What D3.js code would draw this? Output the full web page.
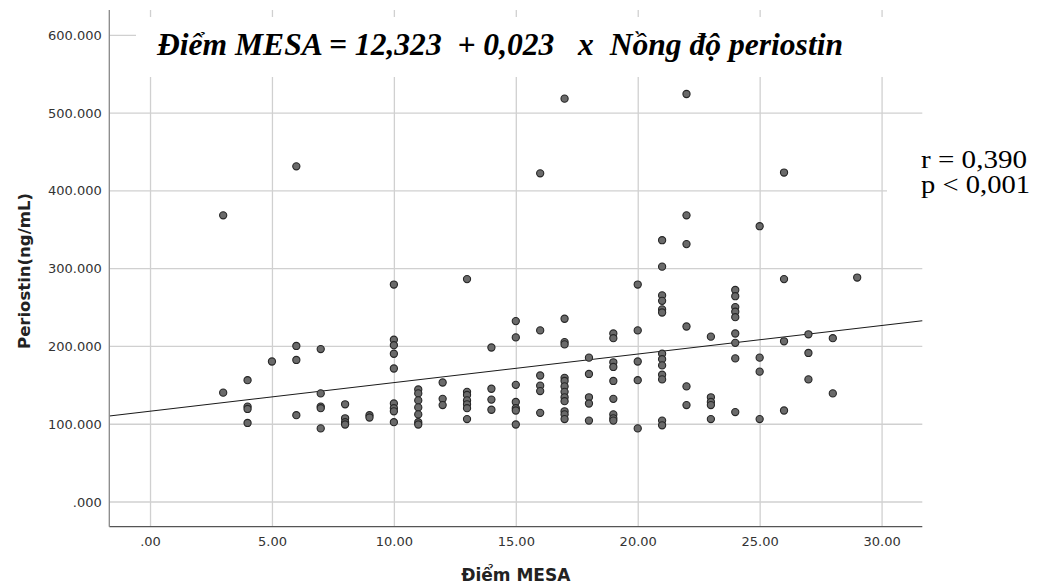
<!DOCTYPE html>
<html><head><meta charset="utf-8">
<script src="https://cdn.jsdelivr.net/npm/d3@7"></script>
<style>body{margin:0;background:#fff}</style>
</head><body>
<svg id="c" width="1039" height="584"></svg>
<script>
// ---- data ----
const mesaScores = [
  3,3,
  4,4,4,4,
  5,
  6,6,6,6,
  7,7,7,7,7,
  8,8,8,8,
  9,9,
  10,10,10,10,10,10,10,10,10,
  11,11,11,11,11,11,11,
  12,12,12,
  13,13,13,13,13,13,13,
  14,14,14,14,
  15,15,15,15,15,15,15,
  16,16,16,16,16,16,
  17,17,17,17,17,17,17,17,17,17,17,17,17,
  18,18,18,18,18,
  19,19,19,19,19,19,19,19,19,
  20,20,20,20,20,
  21,21,21,21,21,21,21,21,21,21,21,21,21,
  22,22,22,22,22,22,
  23,23,23,23,23,
  24,24,24,24,24,24,24,24,24,
  25,25,25,25,
  26,26,26,26,
  27,27,27,
  28,28,
  29
];
const periostinLevels = [
  368, 140,
  156, 122, 119, 101,
  180,
  431, 200, 182, 111,
  196, 139, 122, 120, 94,
  125, 107, 102, 99,
  111, 108,
  279, 208, 201, 190, 171, 126, 120, 116, 102,
  144, 139, 130, 121, 112, 102, 99,
  153, 132, 124,
  286, 141, 137, 130, 125, 120, 106,
  198, 145, 131, 118,
  232, 211, 150, 128, 120, 117, 99,
  422, 220, 162, 149, 142, 114,
  518, 235, 205, 202, 159, 155, 148, 141, 134, 129, 116, 112, 106,
  185, 164, 134, 126, 104,
  216, 210, 179, 173, 155, 132, 112, 107, 104,
  279, 220, 180, 156, 94,
  336, 302, 265, 258, 247, 243, 190, 183, 175, 163, 157, 104, 98,
  524, 368, 331, 225, 148, 124,
  212, 134, 128, 124, 106,
  272, 264, 250, 244, 237, 216, 204, 184, 115,
  354, 185, 167, 106,
  423, 286, 206, 117,
  215, 191, 157,
  210, 139,
  288
];
const xTicks = [0, 5, 10, 15, 20, 25, 30];
const xTickLabels = [".00", "5.00", "10.00", "15.00", "20.00", "25.00", "30.00"];
const yTicks = [0, 100, 200, 300, 400, 500, 600];
const yTickLabels = [".000", "100.000", "200.000", "300.000", "400.000", "500.000", "600.000"];
const fitIntercept = 116.1;
const fitSlope = 3.674;
const xDomain = [-1.67, 31.67];
const yDomain = [-32.4, 632];
const titleText = "Điểm MESA = 12,323  + 0,023   x  Nồng độ periostin";
const statLines = ["r = 0,390", "p < 0,001"];
const xTitle = "Điểm MESA";
const yTitle = "Periostin(ng/mL)";

// ---- drawing ----
const svg = d3.select("#c");
const L = 109.3, R = 922.3, T = 10, B = 526.7;
const x = d3.scaleLinear().domain(xDomain).range([L, R]);
const y = d3.scaleLinear().domain(yDomain).range([B, T]);

// gridlines
svg.append("g").attr("transform", `translate(0,${B})`)
  .call(d3.axisBottom(x).tickValues(xTicks).tickSize(-(B - T)).tickFormat(""))
  .call(g => { g.select(".domain").remove(); g.selectAll("line").attr("stroke", "#d0d0d0").attr("stroke-width", 1.3); });
svg.append("g").attr("transform", `translate(${L},0)`)
  .call(d3.axisLeft(y).tickValues(yTicks).tickSize(-(R - L)).tickFormat(""))
  .call(g => { g.select(".domain").remove(); g.selectAll("line").attr("stroke", "#d0d0d0").attr("stroke-width", 1.3); });

// white box behind the title
svg.append("rect").attr("x", 136).attr("y", 17).attr("width", 800).attr("height", 60).attr("fill", "#fff");
// white box behind r / p
svg.append("rect").attr("x", 887).attr("y", 140).attr("width", 152).attr("height", 80).attr("fill", "#fff");

// regression line
const fitX = xDomain;
svg.append("line")
  .attr("x1", x(fitX[0])).attr("y1", y(fitIntercept + fitSlope * fitX[0]))
  .attr("x2", x(fitX[1])).attr("y2", y(fitIntercept + fitSlope * fitX[1]))
  .attr("stroke", "#1a1a1a").attr("stroke-width", 1.1);

// points
svg.append("g").selectAll("circle").data(mesaScores.map((m, i) => [m, periostinLevels[i]]))
  .join("circle")
  .attr("cx", d => x(d[0])).attr("cy", d => y(d[1])).attr("r", 3.6)
  .attr("fill", "#6a6a6a").attr("stroke", "#262626").attr("stroke-width", 1.1);

// axes
const ax = svg.append("g").attr("transform", `translate(0,${B})`)
  .call(d3.axisBottom(x).tickValues(xTicks).tickSize(0).tickPadding(0).tickFormat((d, i) => xTickLabels[i]));
ax.select(".domain").attr("stroke", "#555").attr("stroke-width", 1.3).attr("d", `M${L},0H${R}`);
ax.selectAll("text").attr("font-family", "DejaVu Sans").attr("font-size", 13).attr("fill", "#333").attr("y", 19.8).attr("dy", 0);

const ay = svg.append("g").attr("transform", `translate(${L},0)`)
  .call(d3.axisLeft(y).tickValues(yTicks).tickSize(0).tickPadding(0).tickFormat((d, i) => yTickLabels[i]));
ay.select(".domain").attr("stroke", "#888").attr("stroke-width", 1.3).attr("d", `M0,${T}V${B}`);
ay.selectAll("text").attr("font-family", "DejaVu Sans").attr("font-size", 13).attr("fill", "#333").attr("x", -7.6).attr("dy", "0.35em");

// axis titles
svg.append("text").attr("x", (L + R) / 2).attr("y", 581).attr("text-anchor", "middle")
  .attr("font-family", "DejaVu Sans").attr("font-weight", "bold").attr("font-size", 17).attr("fill", "#222").text(xTitle);
svg.append("text").attr("transform", `translate(30,271) rotate(-90)`).attr("text-anchor", "middle")
  .attr("font-family", "DejaVu Sans").attr("font-weight", "bold").attr("font-size", 16.5).attr("fill", "#222").text(yTitle);

// title
svg.append("text").attr("x", 157).attr("y", 55)
  .attr("font-family", "Liberation Serif").attr("font-weight", "bold").attr("font-style", "italic")
  .attr("font-size", 32).attr("fill", "#000").style("white-space", "pre")
  .attr("textLength", 686).attr("lengthAdjust", "spacingAndGlyphs").text(titleText);

// r / p
svg.append("g").selectAll("text").data(statLines).join("text")
  .attr("x", 921).attr("y", (d, i) => 168.3 + i * 24.8)
  .attr("font-family", "Liberation Serif").attr("font-size", 26).attr("fill", "#000")
  .attr("textLength", (d, i) => i === 0 ? 106 : 109).attr("lengthAdjust", "spacingAndGlyphs")
  .text(d => d);
</script>
</body></html>
